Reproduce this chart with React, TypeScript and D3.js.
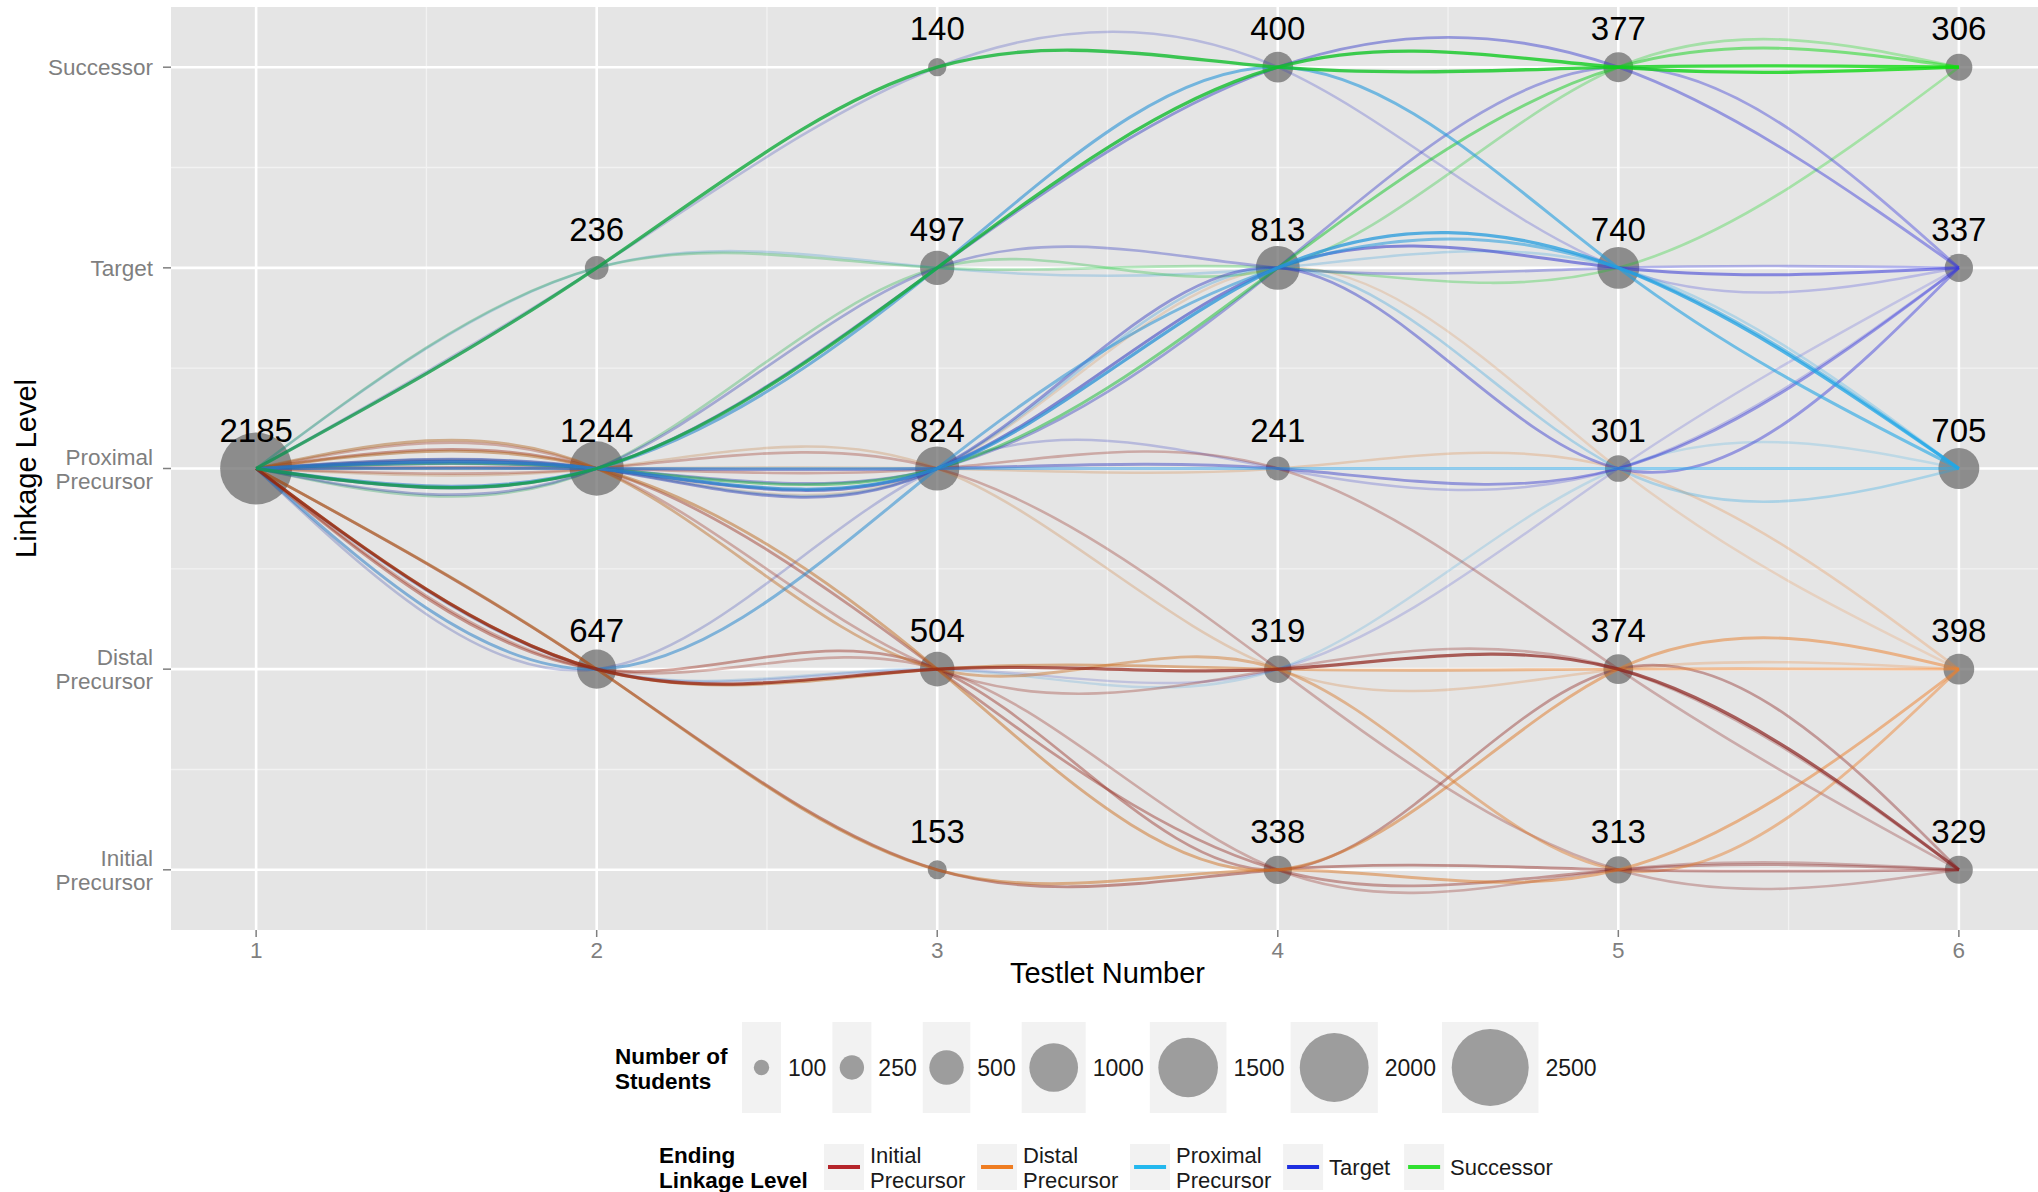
import * as d3 from "d3";

const W = 2038;
const H = 1192;
const font = "'Liberation Sans', Arial, Helvetica, sans-serif";

const testlets = [1, 2, 3, 4, 5, 6];
const levelCodes = ["I", "D", "P", "T", "S"];
const levelLabels = [
  ["Initial", "Precursor"],
  ["Distal", "Precursor"],
  ["Proximal", "Precursor"],
  ["Target"],
  ["Successor"],
];
const legendColors = ["#b5252b", "#ef7d22", "#24b8ee", "#1e2fe0", "#30e030"];
// lines fade from a darker shade at testlet 1 to the brighter one at testlet 6
const pathColorStart = ["#951800", "#a8621e", "#2f7cc4", "#22359e", "#129650"];
const pathColorEnd = ["#8a2525", "#f0802a", "#1fa8e8", "#3838de", "#10dd10"];

const countsInitial = [null, null, 153, 338, 313, 329];
const countsDistal = [null, 647, 504, 319, 374, 398];
const countsProximal = [2185, 1244, 824, 241, 301, 705];
const countsTarget = [null, 236, 497, 813, 740, 337];
const countsSuccessor = [null, null, 140, 400, 377, 306];

const sizeBreaks = [100, 250, 500, 1000, 1500, 2000, 2500];

// student trajectories, one letter per testlet, coloured by the last letter
const pathCodes = [
  "PTSSSS", "PPTSSS", "PPPTSS", "PTTTTS", "PPTTSS",
  "PPPTTT", "PPTSST", "PPPPPT", "PPPTPT", "PPPTST", "PPTTTT", "PTSSTT", "PDPPPT", "PDDDPT",
  "PPPPPP", "PPTSTP", "PPPTTP", "PDPTTP", "PTTTTP", "PDDDPP", "PPPTPP",
  "PPDIDD", "PDDDDD", "PDIIID", "PPDDID", "PPPPPD", "PPPDDD", "PPPTPD",
  "PDDDDI", "PDIIII", "PPDIII", "PPDDDI", "PPPDII", "PDDIDI", "PPPPDI", "PDDIII",
];
const pathAlpha = [
  0.8, 0.8, 0.5, 0.3, 0.3,
  0.55, 0.45, 0.45, 0.45, 0.4, 0.35, 0.25, 0.25, 0.2,
  0.5, 0.6, 0.75, 0.55, 0.25, 0.2, 0.3,
  0.5, 0.5, 0.5, 0.45, 0.25, 0.25, 0.2,
  0.7, 0.45, 0.4, 0.3, 0.3, 0.4, 0.3, 0.3,
];

export default function App() {
  const x = d3.scaleLinear().domain([0.75, 6.25]).range([171, 2044]);
  const y = d3.scaleLinear().domain([0.7, 5.3]).range([930, 7]);
  const r = d3.scaleSqrt().domain([0, 2500]).range([0, 38.5]);

  const panelLeft = x(0.75);
  const panelTop = y(5.3);
  const panelBottom = y(0.7);

  const countsByLevel = [countsInitial, countsDistal, countsProximal, countsTarget, countsSuccessor];
  const nodes = countsByLevel.flatMap((row, li) =>
    row
      .map((n, ti) => ({ level: li + 1, t: testlets[ti], n }))
      .filter((d) => d.n !== null) as { level: number; t: number; n: number }[],
  );

  const line = d3
    .line<number>()
    .x((_, i) => x(testlets[i]))
    .y((d) => y(d))
    .curve(d3.curveNatural);

  const paths = pathCodes
    .map((code, i) => {
      const levels = code.split("").map((c) => levelCodes.indexOf(c) + 1);
      return { levels, end: levels[levels.length - 1], alpha: pathAlpha[i] };
    })
    .sort((a, b) => a.alpha - b.alpha);

  const levelValues = d3.range(1, 6);
  const minorY = [1.5, 2.5, 3.5, 4.5];
  const minorX = [1.5, 2.5, 3.5, 4.5, 5.5];

  // size legend layout
  const sizeFont = 23;
  let cx = 742;
  const sizeItems = sizeBreaks.map((v) => {
    const w = Math.max(39, 2 * r(v) * 1.15 + 8);
    const item = { v, x: cx, w, labelX: cx + w + 7 };
    cx = item.labelX + String(v).length * 0.556 * sizeFont + 6;
    return item;
  });

  // colour legend layout
  const colFont = 22;
  let lx = 824;
  const colItems = levelLabels.map((lines, i) => {
    const item = { lines, color: legendColors[i], x: lx };
    const tw = (d3.max(lines, (s) => s.length) || 0) * 0.485 * 22;
    lx = lx + 46 + tw + 11;
    return item;
  });

  const axisFont = 22.5;

  return (
    <svg
      width={W}
      height={H}
      viewBox={`0 0 ${W} ${H}`}
      style={{ position: "absolute", left: 0, top: 0, background: "#fff" }}
      fontFamily={font}
    >
      <defs>
        {levelCodes.map((c, i) => (
          <linearGradient
            key={c}
            id={`grad-${c}`}
            gradientUnits="userSpaceOnUse"
            x1={x(1)}
            x2={x(6)}
            y1={0}
            y2={0}
          >
            <stop offset="0%" stopColor={pathColorStart[i]} />
            <stop offset="100%" stopColor={pathColorEnd[i]} />
          </linearGradient>
        ))}
        <clipPath id="panel-clip">
          <rect x={panelLeft} y={panelTop} width={W - panelLeft} height={panelBottom - panelTop} />
        </clipPath>
      </defs>

      {/* panel */}
      <rect x={panelLeft} y={panelTop} width={W - panelLeft} height={panelBottom - panelTop} fill="#e5e5e5" />
      <g clipPath="url(#panel-clip)">
        {minorY.map((v) => (
          <line key={`my${v}`} x1={panelLeft} x2={W} y1={y(v)} y2={y(v)} stroke="#f2f2f2" strokeWidth={1.3} />
        ))}
        {minorX.map((v) => (
          <line key={`mx${v}`} x1={x(v)} x2={x(v)} y1={panelTop} y2={panelBottom} stroke="#f2f2f2" strokeWidth={1.3} />
        ))}
        {levelValues.map((v) => (
          <line key={`gy${v}`} x1={panelLeft} x2={W} y1={y(v)} y2={y(v)} stroke="#fff" strokeWidth={2.6} />
        ))}
        {testlets.map((t) => (
          <line key={`gx${t}`} x1={x(t)} x2={x(t)} y1={panelTop} y2={panelBottom} stroke="#fff" strokeWidth={2.6} />
        ))}

        {nodes.map((d) => (
          <circle key={`n${d.t}-${d.level}`} cx={x(d.t)} cy={y(d.level)} r={r(d.n)} fill="#6e6e6e" fillOpacity={0.75} />
        ))}

        {paths.map((p, i) => (
          <path
            key={`p${i}`}
            d={line(p.levels) || ""}
            fill="none"
            stroke={`url(#grad-${levelCodes[p.end - 1]})`}
            strokeOpacity={p.alpha}
            strokeWidth={2.2 + 1.4 * p.alpha}
          />
        ))}

        {nodes.map((d) => (
          <text
            key={`l${d.t}-${d.level}`}
            x={x(d.t)}
            y={y(d.level) - 27}
            textAnchor="middle"
            fontSize={33}
            fill="#000"
          >
            {d.n}
          </text>
        ))}
      </g>

      {/* y axis */}
      {levelValues.map((v, i) => {
        const lines = levelLabels[i];
        return (
          <g key={`ya${v}`}>
            <line x1={panelLeft - 8} x2={panelLeft} y1={y(v)} y2={y(v)} stroke="#7f7f7f" strokeWidth={1.5} />
            <text x={panelLeft - 18} y={y(v)} textAnchor="end" fontSize={axisFont} fill="#7f7f7f">
              {lines.length === 1 ? (
                <tspan x={panelLeft - 18} dy={8}>
                  {lines[0]}
                </tspan>
              ) : (
                <>
                  <tspan x={panelLeft - 18} dy={-4}>
                    {lines[0]}
                  </tspan>
                  <tspan x={panelLeft - 18} dy={24}>
                    {lines[1]}
                  </tspan>
                </>
              )}
            </text>
          </g>
        );
      })}
      <text
        transform={`translate(36, ${(panelTop + panelBottom) / 2}) rotate(-90)`}
        textAnchor="middle"
        fontSize={29}
        fill="#000"
      >
        Linkage Level
      </text>

      {/* x axis */}
      {testlets.map((t) => (
        <g key={`xa${t}`}>
          <line x1={x(t)} x2={x(t)} y1={panelBottom} y2={panelBottom + 7} stroke="#7f7f7f" strokeWidth={1.5} />
          <text x={x(t)} y={panelBottom + 28} textAnchor="middle" fontSize={axisFont} fill="#7f7f7f">
            {t}
          </text>
        </g>
      ))}
      <text x={(x(0.75) + x(6.25)) / 2} y={983} textAnchor="middle" fontSize={29} fill="#000">
        Testlet Number
      </text>

      {/* size legend */}
      <text x={615} y={1064} fontSize={22.5} fontWeight="bold" fill="#000">
        Number of
      </text>
      <text x={615} y={1089} fontSize={22.5} fontWeight="bold" fill="#000">
        Students
      </text>
      {sizeItems.map((it) => (
        <g key={`s${it.v}`}>
          <rect x={it.x} y={1022} width={it.w} height={91} fill="#f2f2f2" />
          <circle cx={it.x + it.w / 2} cy={1067.5} r={r(it.v)} fill="#6e6e6e" fillOpacity={0.65} />
          <text x={it.labelX} y={1076} fontSize={sizeFont} fill="#1a1a1a">
            {it.v}
          </text>
        </g>
      ))}

      {/* colour legend */}
      <text x={659} y={1163} fontSize={22.5} fontWeight="bold" fill="#000">
        Ending
      </text>
      <text x={659} y={1188} fontSize={22.5} fontWeight="bold" fill="#000">
        Linkage Level
      </text>
      {colItems.map((it) => (
        <g key={`c${it.lines.join("")}`}>
          <rect x={it.x} y={1144} width={40} height={46} fill="#f2f2f2" />
          <line x1={it.x + 4} x2={it.x + 36} y1={1167} y2={1167} stroke={it.color} strokeWidth={4} />
          {it.lines.length === 1 ? (
            <text x={it.x + 46} y={1175} fontSize={colFont} fill="#1a1a1a">
              {it.lines[0]}
            </text>
          ) : (
            <>
              <text x={it.x + 46} y={1163} fontSize={colFont} fill="#1a1a1a">
                {it.lines[0]}
              </text>
              <text x={it.x + 46} y={1188} fontSize={colFont} fill="#1a1a1a">
                {it.lines[1]}
              </text>
            </>
          )}
        </g>
      ))}
    </svg>
  );
}
